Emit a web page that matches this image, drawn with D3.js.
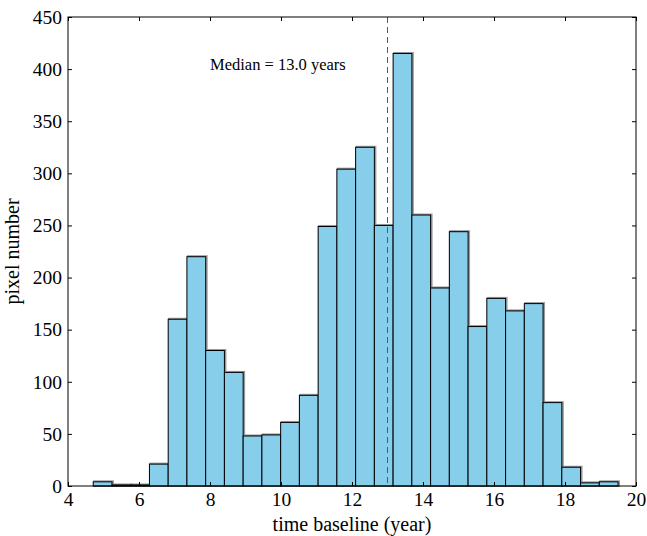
<!DOCTYPE html>
<html>
<head>
<meta charset="utf-8">
<script src="https://cdn.jsdelivr.net/npm/d3@7"></script>
<style>
    body { margin: 0; background: #fff; }
    svg text { font-family: "Liberation Serif", "DejaVu Serif", serif; fill: #000; }
</style>
</head>
<body>
<div id="vis-container"></div>
<script>
// Histogram bins (left edge in years) and counts
const binStart = 4.71;
const binWidth = 0.528;
const counts = [4, 1, 1, 21, 160, 220, 130, 109, 48, 49, 61, 87, 249, 304, 325, 250,
                415, 260, 190, 244, 153, 180, 168, 175, 80, 18, 3, 4];

// Tick values
const xTicks = [4, 6, 8, 10, 12, 14, 16, 18, 20];
const yTicks = [0, 50, 100, 150, 200, 250, 300, 350, 400, 450];

// Median marker
const medianValue = 13.0;
const medianLabel = "Median = 13.0 years";

function main()
{
    const width = 647;
    const height = 536;
    const margin = { top: 17, right: 11, bottom: 50, left: 68 };

    const svg = d3.select("#vis-container")
        .append("svg")
        .attr("width", width)
        .attr("height", height);

    const plotW = width - margin.left - margin.right;
    const plotH = height - margin.top - margin.bottom;

    const g = svg.append("g")
        .attr("transform", `translate(${margin.left},${margin.top})`);

    const x = d3.scaleLinear().domain([4, 20]).range([0, plotW]);
    const y = d3.scaleLinear().domain([0, 450]).range([plotH, 0]);

    const bins = counts.map((c, i) => ({
        x0: binStart + i * binWidth,
        x1: binStart + (i + 1) * binWidth,
        count: c
    }));

    // Soft shadows behind bars
    g.append("g")
        .selectAll("rect")
        .data(bins)
        .enter()
        .append("rect")
        .attr("x", d => x(d.x0) + 1)
        .attr("y", d => y(d.count) - 0.5)
        .attr("width", d => x(d.x1) - x(d.x0))
        .attr("height", d => plotH - y(d.count) + 0.5)
        .attr("fill", "none")
        .attr("stroke", "#999")
        .attr("stroke-width", 2);

    // Bars
    g.append("g")
        .selectAll("rect")
        .data(bins)
        .enter()
        .append("rect")
        .attr("x", d => x(d.x0))
        .attr("y", d => y(d.count))
        .attr("width", d => x(d.x1) - x(d.x0))
        .attr("height", d => plotH - y(d.count))
        .attr("fill", "#87CEEB")
        .attr("stroke", "#000")
        .attr("stroke-width", 1);

    // Median line
    g.append("line")
        .attr("x1", x(medianValue))
        .attr("x2", x(medianValue))
        .attr("y1", 0)
        .attr("y2", plotH)
        .attr("stroke", "#e02020")
        .attr("stroke-width", 1)
        .attr("stroke-dasharray", "6,4");

    g.append("text")
        .attr("x", x(8.0))
        .attr("y", 53)
        .attr("font-size", 16.5)
        .text(medianLabel);

    // Axes with inward ticks on all sides
    const tickLen = 4;
    const bottom = g.append("g")
        .attr("transform", `translate(0,${plotH})`)
        .call(d3.axisBottom(x).tickValues(xTicks).tickSize(-tickLen).tickPadding(6));
    g.append("g")
        .call(d3.axisTop(x).tickValues(xTicks).tickSize(-tickLen).tickFormat(""));
    const left = g.append("g")
        .call(d3.axisLeft(y).tickValues(yTicks).tickSize(-tickLen).tickPadding(6));
    g.append("g")
        .attr("transform", `translate(${plotW},0)`)
        .call(d3.axisRight(y).tickValues(yTicks).tickSize(-tickLen).tickFormat(""));

    g.selectAll(".domain").remove();
    g.selectAll(".tick line").attr("stroke", "#000");
    bottom.selectAll("text").attr("font-size", 19.5).attr("font-family", "Liberation Serif");
    left.selectAll("text").attr("font-size", 19.5).attr("font-family", "Liberation Serif");

    // Frame
    g.append("rect")
        .attr("width", plotW)
        .attr("height", plotH)
        .attr("fill", "none")
        .attr("stroke", "#000")
        .attr("stroke-width", 1);

    // Axis labels
    svg.append("text")
        .attr("x", margin.left + plotW / 2)
        .attr("y", 531)
        .attr("text-anchor", "middle")
        .attr("font-size", 20)
        .text("time baseline (year)");

    svg.append("text")
        .attr("transform", `translate(19,${margin.top + plotH / 2}) rotate(-90)`)
        .attr("text-anchor", "middle")
        .attr("font-size", 20)
        .text("pixel number");
}

document.addEventListener("DOMContentLoaded", main);
</script>
</body>
</html>
